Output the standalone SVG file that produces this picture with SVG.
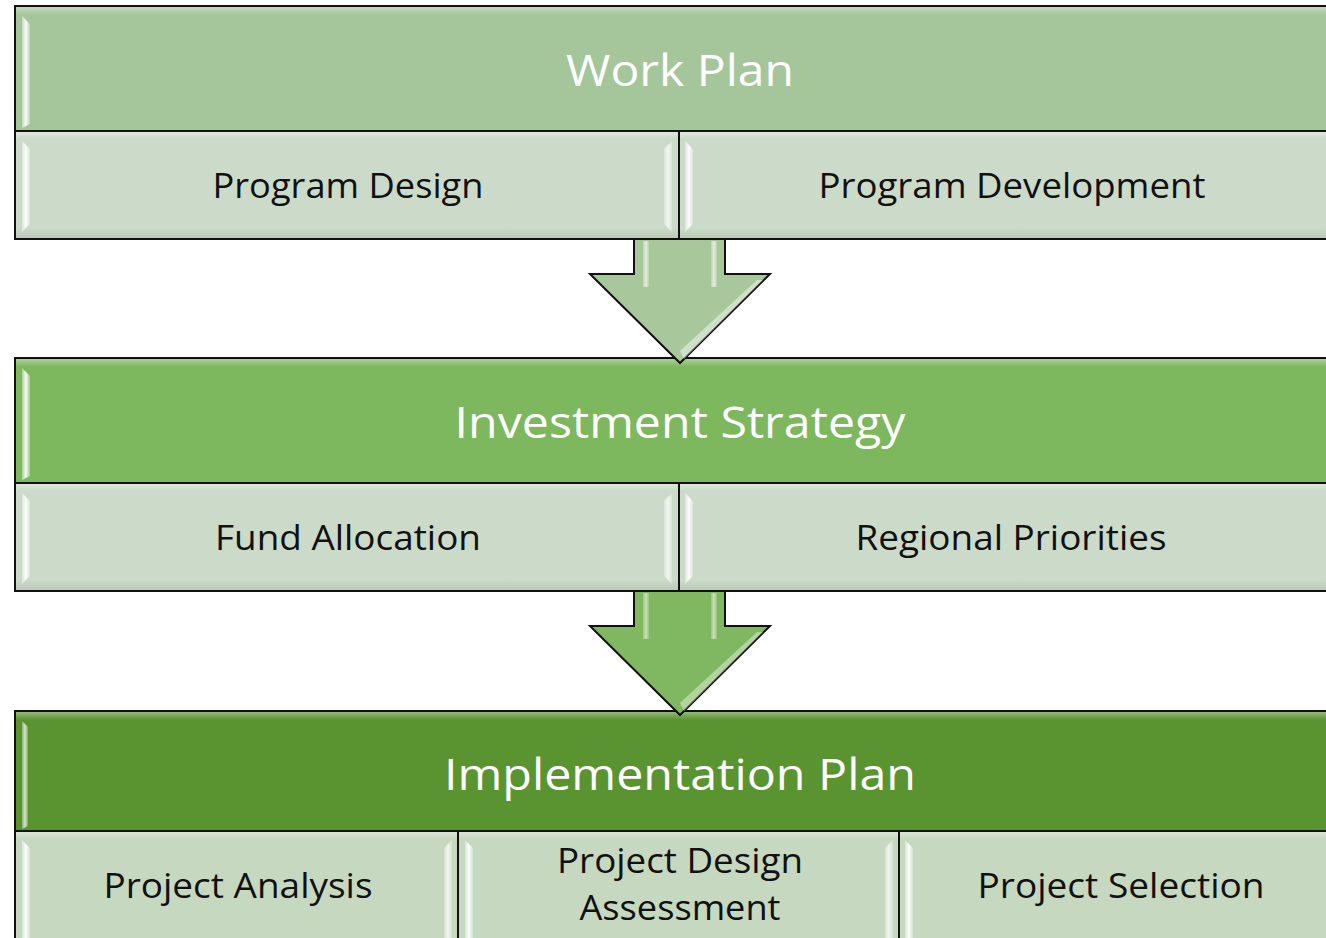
<svg xmlns="http://www.w3.org/2000/svg" width="1326" height="938" viewBox="0 0 1326 938">
  <defs>
    <linearGradient id="shineL" x1="0" y1="0" x2="1" y2="0">
      <stop offset="0" stop-color="#ffffff" stop-opacity="0.35"/>
      <stop offset="0.5" stop-color="#ffffff" stop-opacity="0.95"/>
      <stop offset="1" stop-color="#ffffff" stop-opacity="0.25"/>
    </linearGradient>
    <linearGradient id="topEdge" x1="0" y1="0" x2="0" y2="1">
      <stop offset="0" stop-color="#ffffff" stop-opacity="0.35"/>
      <stop offset="1" stop-color="#ffffff" stop-opacity="0"/>
    </linearGradient>
    <linearGradient id="botEdge" x1="0" y1="0" x2="0" y2="1">
      <stop offset="0" stop-color="#000000" stop-opacity="0"/>
      <stop offset="1" stop-color="#000000" stop-opacity="0.08"/>
    </linearGradient>
    <linearGradient id="diag" x1="0" y1="0" x2="1" y2="1">
      <stop offset="0" stop-color="#ffffff" stop-opacity="0.9"/>
      <stop offset="1" stop-color="#ffffff" stop-opacity="0.2"/>
    </linearGradient>
  </defs>
  <style>
    .box { stroke: #111111; stroke-width: 2; }
    .h1 { fill: #a5c59a; }
    .h2 { fill: #7db75e; }
    .h3 { fill: #5a9431; }
    .sub1 { fill: #ccdbc9; }
    .sub3 { fill: #c6d8bf; }
    .shine { fill: url(#shineL); }
    .top { fill: url(#topEdge); }
    .bot { fill: url(#botEdge); }
    .title { font-family: "Open Sans", "Noto Sans", "Liberation Sans", sans-serif; font-size: 44px; fill: #ffffff; text-anchor: middle; }
    .label { font-family: "Open Sans", "Noto Sans", "Liberation Sans", sans-serif; font-size: 35px; fill: #111111; text-anchor: middle; }
    .arrow { stroke: #111111; stroke-width: 2; stroke-linejoin: miter; }
  </style>

  <!-- Stage 1 -->
  <g id="work-plan">
    <rect class="box h1" x="15" y="6" width="1330" height="125"/>
    <rect class="top" x="16" y="7" width="1320" height="8"/>
    <path class="shine" d="M22,16 L30,24 L30,124 L22,128 Z"/>
    <text class="title" x="680" y="86" textLength="228" lengthAdjust="spacingAndGlyphs">Work Plan</text>
  </g>
  <g id="program-design">
    <rect class="box sub1" x="15" y="131" width="664" height="108"/>
    <rect class="top" x="16" y="132" width="662" height="7"/>
    <rect class="bot" x="16" y="228" width="662" height="10"/>
    <path class="shine" d="M22,141 L30,149 L30,224 L22,232 Z"/>
    <path class="shine" d="M672,141 L664,149 L664,224 L672,232 Z" opacity="0.8"/>
    <text class="label" x="348" y="198" textLength="271" lengthAdjust="spacingAndGlyphs">Program Design</text>
  </g>
  <g id="program-development">
    <rect class="box sub1" x="679" y="131" width="660" height="108"/>
    <rect class="top" x="680" y="132" width="650" height="7"/>
    <rect class="bot" x="680" y="228" width="650" height="10"/>
    <path class="shine" d="M685,141 L693,149 L693,224 L685,232 Z"/>
    <text class="label" x="1012" y="198" textLength="387" lengthAdjust="spacingAndGlyphs">Program Development</text>
  </g>

  <!-- Stage 2 -->
  <g id="investment-strategy">
    <rect class="box h2" x="15" y="358" width="1330" height="125"/>
    <rect class="top" x="16" y="359" width="1320" height="8"/>
    <path class="shine" d="M22,368 L30,376 L30,476 L22,480 Z"/>
    <text class="title" x="680" y="438" textLength="451" lengthAdjust="spacingAndGlyphs">Investment Strategy</text>
  </g>
  <g id="fund-allocation">
    <rect class="box sub1" x="15" y="483" width="664" height="108"/>
    <rect class="top" x="16" y="484" width="662" height="7"/>
    <rect class="bot" x="16" y="580" width="662" height="10"/>
    <path class="shine" d="M22,493 L30,501 L30,576 L22,584 Z"/>
    <path class="shine" d="M672,493 L664,501 L664,576 L672,584 Z" opacity="0.8"/>
    <text class="label" x="348" y="550" textLength="266" lengthAdjust="spacingAndGlyphs">Fund Allocation</text>
  </g>
  <g id="regional-priorities">
    <rect class="box sub1" x="679" y="483" width="660" height="108"/>
    <rect class="top" x="680" y="484" width="650" height="7"/>
    <rect class="bot" x="680" y="580" width="650" height="10"/>
    <path class="shine" d="M685,493 L693,501 L693,576 L685,584 Z"/>
    <text class="label" x="1011" y="550" textLength="311" lengthAdjust="spacingAndGlyphs">Regional Priorities</text>
  </g>

  <!-- Stage 3 -->
  <g id="implementation-plan">
    <rect class="box h3" x="15" y="711" width="1330" height="120"/>
    <rect class="top" x="16" y="712" width="1320" height="8"/>
    <path class="shine" d="M22,721 L28,727 L28,826 L22,829 Z" opacity="0.8"/>
    <text class="title" x="680" y="790" textLength="472" lengthAdjust="spacingAndGlyphs">Implementation Plan</text>
  </g>
  <g id="project-analysis">
    <rect class="box sub3" x="15" y="831" width="443" height="120"/>
    <rect class="top" x="16" y="832" width="441" height="7"/>
    <path class="shine" d="M22,840 L30,848 L30,938 L22,938 Z"/>
    <path class="shine" d="M452,840 L444,848 L444,938 L452,938 Z" opacity="0.8"/>
    <text class="label" x="238" y="898" textLength="269" lengthAdjust="spacingAndGlyphs">Project Analysis</text>
  </g>
  <g id="project-design-assessment">
    <rect class="box sub3" x="458" y="831" width="441" height="120"/>
    <rect class="top" x="459" y="832" width="439" height="7"/>
    <path class="shine" d="M465,840 L473,848 L473,938 L465,938 Z"/>
    <path class="shine" d="M893,840 L885,848 L885,938 L893,938 Z" opacity="0.8"/>
    <text class="label" x="680" y="873" textLength="246" lengthAdjust="spacingAndGlyphs">Project Design</text>
    <text class="label" x="680" y="920" textLength="201" lengthAdjust="spacingAndGlyphs">Assessment</text>
  </g>
  <g id="project-selection">
    <rect class="box sub3" x="899" y="831" width="440" height="120"/>
    <rect class="top" x="900" y="832" width="430" height="7"/>
    <path class="shine" d="M905,840 L913,848 L913,938 L905,938 Z"/>
    <text class="label" x="1121" y="898" textLength="287" lengthAdjust="spacingAndGlyphs">Project Selection</text>
  </g>

  <!-- connectors: block arrows between the stages, drawn last so the tips overlap the next stage -->
  <g id="connectors">
    <g id="arrow1">
      <path d="M634,240 L725,240 L725,274 L770,274 L680,363 L590,274 L634,274 Z" fill="#a8c89c"/>
      <path class="arrow" d="M634,240 L634,274 L590,274 L680,363 L770,274 L725,274 L725,240" fill="none"/>
      <rect class="shine" x="643" y="241" width="6" height="46" opacity="0.7"/>
      <rect class="shine" x="711" y="241" width="6" height="46" opacity="0.7"/>
      <path d="M757,280 L763,280 L684,359 L680,351 Z" fill="url(#diag)" opacity="0.8"/>
    </g>
    <g id="arrow2">
      <path d="M634,592 L725,592 L725,626 L770,626 L680,715 L590,626 L634,626 Z" fill="#80b862"/>
      <path class="arrow" d="M634,592 L634,626 L590,626 L680,715 L770,626 L725,626 L725,592" fill="none"/>
      <rect class="shine" x="643" y="593" width="6" height="46" opacity="0.6"/>
      <rect class="shine" x="711" y="593" width="6" height="46" opacity="0.6"/>
      <path d="M757,632 L763,632 L684,711 L680,703 Z" fill="url(#diag)" opacity="0.7"/>
    </g>
  </g>
</svg>
